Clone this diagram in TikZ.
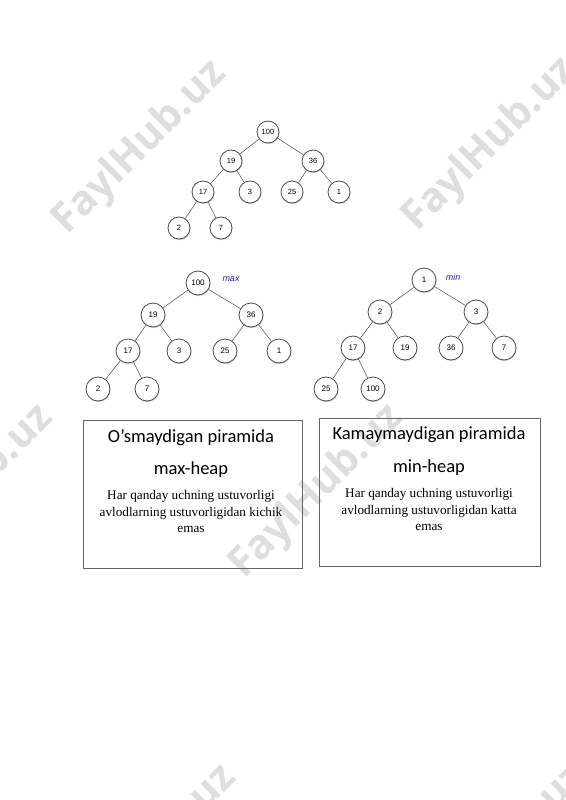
\documentclass[tikz,border=0pt]{standalone}
\usepackage{fontspec}
\setmainfont{Liberation Serif}
\setsansfont{Liberation Sans}
\newfontfamily\headfont{Carlito}
\newfontfamily\markfont{Open Sans}
\usetikzlibrary{shadows}
\definecolor{edgecolor}{RGB}{85,85,85}
\definecolor{labelblue}{RGB}{30,30,210}
\definecolor{markgray}{RGB}{222,222,222}
\tikzset{
  heapnode/.style={circle, draw=black!70, fill=white, line width=0.8pt,
    minimum size=24pt, inner sep=0pt, font=\sffamily\fontsize{8}{9}\selectfont,
    drop shadow={shadow xshift=0.5pt, shadow yshift=-1.2pt, opacity=0.35}},
  smallnode/.style={heapnode, minimum size=22pt, font=\sffamily\fontsize{7.5}{8}\selectfont},
  heapedge/.style={draw=edgecolor, line width=0.55pt},
  heaplabel/.style={text=labelblue, font=\sffamily\itshape\fontsize{9}{10}\selectfont},
  infobox/.style={draw=black!60, line width=0.6pt, minimum height=148pt, inner sep=0pt},
  headtext/.style={anchor=base, font=\headfont\fontsize{18.5}{22}\selectfont},
  bodytext/.style={anchor=north, align=center, inner sep=0pt, font=\fontsize{13.2}{16.5}\selectfont},
  watermark/.style={text=markgray, rotate=45, font=\markfont\bfseries\fontsize{41}{41}\selectfont}
}
\begin{document}
\begin{tikzpicture}[x=1pt, y=-1pt]
\useasboundingbox (0,0) rectangle (565,800);

% Suv belgisi (orqa fonda)
\begin{scope}
  \clip (0,0) rectangle (565,800);
  \foreach \x/\y in {140/148, 490/145, -33/492, 317/492, 150/852, 500/852}
    \node[watermark] at (\x,\y) {FaylHub.uz};
\end{scope}

% Yuqoridagi piramida
\foreach \nm/\x/\y/\v in {t100/268/132/100, t19/231/161/19, t36/313/161/36,
    t17/203/192/17, t3/250/192/3, t25/292/192/25, t1/339/192/1,
    t2/179/228/2, t7/221/228/7}
  \node[smallnode] (\nm) at (\x,\y) {\v};
\foreach \p/\c in {t100/t19, t100/t36, t19/t17, t19/t3, t36/t25, t36/t1, t17/t2, t17/t7}
  \draw[heapedge] (\p) -- (\c);

% max-heap
\foreach \nm/\x/\y/\v in {x100/198/283/100, x19/153/315/19, x36/251/315/36,
    x17/128/351/17, x3/179/351/3, x25/225/351/25, x1/279/351/1,
    x2/98/389/2, x7/147/389/7}
  \node[heapnode] (\nm) at (\x,\y) {\v};
\foreach \p/\c in {x100/x19, x100/x36, x19/x17, x19/x3, x36/x25, x36/x1, x17/x2, x17/x7}
  \draw[heapedge] (\p) -- (\c);
\node[heaplabel] (maxlabel) at (231,279) {max};

% min-heap
\foreach \nm/\x/\y/\v in {n1/424/280/1, n2/380/312/2, n3/476/312/3,
    n17/353/348/17, n19/405/348/19, n36/451/348/36, n7/504/348/7,
    n25/326/389/25, n100/373/389/100}
  \node[heapnode] (\nm) at (\x,\y) {\v};
\foreach \p/\c in {n1/n2, n1/n3, n2/n17, n2/n19, n3/n36, n3/n7, n17/n25, n17/n100}
  \draw[heapedge] (\p) -- (\c);
\node[heaplabel] (minlabel) at (453,277) {min};

% Izoh qutilari
\node[infobox, minimum width=219pt] (maxbox) at (192.5,494) {};
\node[headtext] (maxtitle) at (191,442) {O’smaydigan piramida};
\node[headtext] (maxname) at (191,474) {max-heap};
\node[bodytext] (maxtext) at (191,490.5) {Har qanday uchning ustuvorligi\\
  avlodlarning ustuvorligidan kichik\\ emas};

\node[infobox, minimum width=221pt] (minbox) at (429.5,492) {};
\node[headtext] (mintitle) at (429,439) {Kamaymaydigan piramida};
\node[headtext] (minname) at (429,472) {min-heap};
\node[bodytext] (mintext) at (429,488.5) {Har qanday uchning ustuvorligi\\
  avlodlarning ustuvorligidan katta\\ emas};

\end{tikzpicture}
\end{document}
